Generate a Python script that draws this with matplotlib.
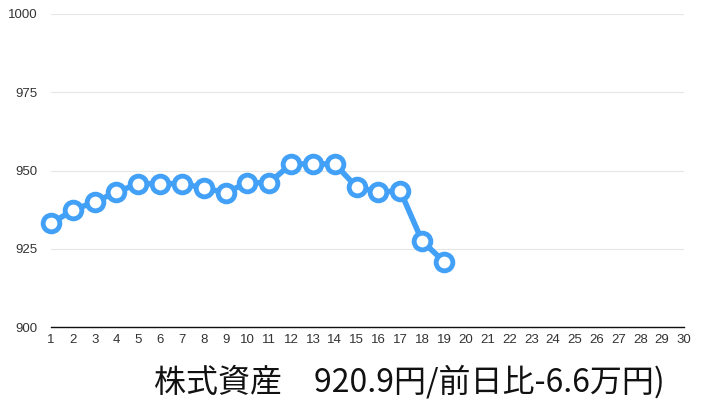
import matplotlib
matplotlib.use("Agg")
import matplotlib.pyplot as plt

plt.rcParams['font.family'] = ['Noto Sans CJK JP', 'DejaVu Sans']

# data
days = list(range(1, 20))
values = [933.1, 937.3, 940.0, 943.1, 945.8, 945.8, 945.8, 944.4, 942.9, 946.1,
          946.1, 952.1, 952.1, 952.1, 944.7, 943.1, 943.5, 927.5, 920.9]
xticks = list(range(1, 31))
yticks = [900, 925, 950, 975, 1000]
title = "株式資産　920.9円/前日比-6.6万円)"

fig = plt.figure(figsize=(7.06, 4.08), dpi=100)
ax = fig.add_axes([51 / 706, 81 / 408, 633 / 706, 313 / 408])

ax.plot(days, values, color='#42a1f7', lw=4, marker='o', ms=12,
        mfc='white', mec='#42a1f7', mew=3.5, zorder=3, clip_on=False)

ax.set_xlim(1, 30)
ax.set_ylim(900, 1000)
ax.set_xticks(xticks)
ax.set_yticks(yticks)
ax.tick_params(length=0, labelsize=9.5, colors='#333333')
ax.tick_params(axis='x', pad=5)
ax.tick_params(axis='y', pad=10)
for lab in ax.get_xticklabels() + ax.get_yticklabels():
    lab.set_family(['Liberation Sans', 'DejaVu Sans'])
ax.grid(axis='y', color='#e6e6e6', lw=0.8)
ax.set_axisbelow(True)
for s in ['top', 'right', 'left']:
    ax.spines[s].set_visible(False)
ax.spines['bottom'].set_color('#111111')
ax.spines['bottom'].set_linewidth(1.0)
ax.spines['bottom'].set_zorder(4)

fig.text(409 / 706, 1 - 382 / 408, title, ha='center', va='center',
         fontsize=23, color='#111111')

fig.savefig('out.png', dpi=100)
